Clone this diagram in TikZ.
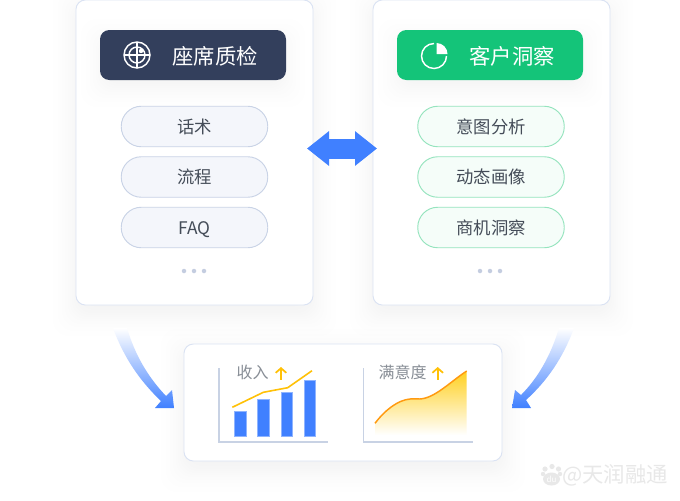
\documentclass[tikz,border=0pt]{standalone}
\usepackage{fontspec}
\setmainfont{Noto Sans CJK SC}
\usetikzlibrary{arrows.meta}
\def\px{0.75pt}
\definecolor{navyhead}{HTML}{333F5C}
\definecolor{greenhead}{HTML}{14C479}
\definecolor{cardline}{HTML}{DBE3F3}
\definecolor{pillgrey}{HTML}{F4F6FB}
\definecolor{pillgreyline}{HTML}{C9D3E6}
\definecolor{pillgreen}{HTML}{F5FDF9}
\definecolor{pillgreenline}{HTML}{95E4BE}
\definecolor{pilltext}{HTML}{444C58}
\definecolor{flowblue}{HTML}{4080FF}
\definecolor{axisline}{HTML}{C8D2E4}
\definecolor{barline}{HTML}{8FB4FF}
\definecolor{risegold}{HTML}{FFC107}
\definecolor{areagold}{HTML}{FFD020}
\definecolor{curveorange}{HTML}{FF9A10}
\definecolor{labelgrey}{HTML}{888E96}
\definecolor{dotgrey}{HTML}{C4CDE0}
\definecolor{markgrey}{HTML}{E8E8E8}
\newcommand{\softshadow}[4]{%
  \foreach \g in {-6,-3,0,2,4,6,8,11,14,18,23} {
    \fill[black, opacity=0.005, rounded corners=12pt]
      (#1-\g,#2-\g+8) rectangle (#3+\g,#4+\g+8);
  }%
}
\begin{document}
\begin{tikzpicture}[x=0.75pt, y=-0.75pt]
\tikzset{
  cardbox/.style={draw=cardline, fill=white, line width=0.7pt, rounded corners=7pt, inner sep=0pt, outer sep=0pt},
  headbox/.style={rounded corners=7pt, minimum width=186*\px, minimum height=50*\px, inner sep=0pt, text=white},
  pillgrey/.style={draw=pillgreyline, fill=pillgrey, line width=0.7pt, rounded corners=15pt, minimum width=146.5*\px, minimum height=40.5*\px, inner sep=0pt, text=pilltext, font=\fontsize{13}{15}\selectfont},
  pillgreen/.style={pillgrey, draw=pillgreenline, fill=pillgreen},
  headtext/.style={inner sep=0pt, text=white, font=\fontsize{16}{18}\selectfont},
  charttext/.style={inner sep=0pt, text=labelgrey, font=\fontsize{12}{14}\selectfont},
  chartaxis/.style={draw=axisline, line width=1pt},
  chartbar/.style={draw=barline, fill=flowblue, line width=0.4pt},
  riseup/.style={draw=risegold, line width=1.3pt, -{Straight Barb[length=3.5pt,width=8pt]}},
  crossflow/.style={draw=flowblue, line width=15pt, {Triangle[length=16.5pt,width=25pt]}-{Triangle[length=16.5pt,width=25pt]}},
  tinydot/.style={fill=dotgrey, circle, inner sep=0pt, minimum size=4.5*\px},
}
\useasboundingbox (0,0) rectangle (680,500);
\fill[white] (0,0) rectangle (680,500);
% shadows under the cards
\softshadow{76}{0}{313}{305}
\softshadow{373}{0}{610}{305}
\softshadow{184}{344}{502}{461}
% cards
\node[cardbox, minimum width=237*\px, minimum height=305*\px] (CardL) at (194.5,152.5) {};
\node[cardbox, minimum width=237*\px, minimum height=305*\px] (CardR) at (491.5,152.5) {};
\node[cardbox, minimum width=318*\px, minimum height=117*\px] (CardB) at (343,402.5) {};
% headers
\softshadow{104}{34}{282}{76}
\softshadow{401}{34}{579}{76}
\node[headbox, fill=navyhead] (HeadL) at (193,55) {};
\node[headbox, fill=greenhead] (HeadR) at (490,55) {};
\node[headtext] (TitleL) at (215,56) {座席质检};
\node[headtext] (TitleR) at (512,56) {客户洞察};
% target icon
\draw[white, line width=1.1pt] (137,55) circle[radius=13*\px];
\draw[white, line width=1.1pt] (137,55) circle[radius=8*\px];
\draw[white, line width=1.1pt] (124,55) -- (150,55);
\draw[white, line width=1.1pt] (137,42) -- (137,68);
\fill[white] (141,51) circle[radius=2.2*\px];
% pie icon
\draw[white, line width=1.1pt] (434,43.5) arc[start angle=90, end angle=360, radius=12.5*\px];
\fill[white] (436.5,54) -- (436.5,43) arc[start angle=90, end angle=0, radius=11*\px] -- cycle;
% pills
\node[pillgrey] (Talk) at (194.5,126.5) {话术};
\node[pillgrey] (Flow) at (194.5,177) {流程};
\node[pillgrey] (Faq) at (194.5,227.5) {\raisebox{-5.5pt}[0pt][0pt]{FAQ}};
\node[pillgreen] (Intent) at (491,126.5) {意图分析};
\node[pillgreen] (Portrait) at (491,177) {动态画像};
\node[pillgreen] (Chance) at (491,227.5) {商机洞察};
\node[tinydot] (DotL1) at (184,271) {};
\node[tinydot] (DotL2) at (194,271) {};
\node[tinydot] (DotL3) at (204,271) {};
\node[tinydot] (DotR1) at (480,271) {};
\node[tinydot] (DotR2) at (490,271) {};
\node[tinydot] (DotR3) at (500,271) {};
% arrows
\coordinate (SwapL) at (307,148.5);
\coordinate (SwapR) at (377,148.5);
\draw[crossflow] (SwapL) -- (SwapR);
\shade[top color=white, bottom color=flowblue, draw=none]
  (113,328) .. controls (124,358) and (140,381) .. (161,401) -- (155,408) -- (174,408) -- (172,390) -- (166,396)
  .. controls (148,377) and (135,355) .. (127,328) -- cycle;
\shade[top color=white, bottom color=flowblue, draw=none]
  (574,328) .. controls (563,358) and (547,381) .. (526,400) -- (531,408) -- (512,408) -- (515,390) -- (521,395)
  .. controls (538,378) and (551,355) .. (559,328) -- cycle;
% income chart
\draw[chartbar] (234.3,411) rectangle (246,436.3);
\draw[chartbar] (257.7,399.3) rectangle (269.3,436.3);
\draw[chartbar] (281,392.3) rectangle (292.3,436.3);
\draw[chartbar] (304,380.7) rectangle (315.7,436.3);
\draw[chartaxis] (219,368) -- (219,442) -- (328,442);
\draw[risegold, line width=1.2pt] (232.3,407.3) -- (263.3,392.3) -- (287.7,387.7) -- (312,370.7);
\node[charttext] (Income) at (252.5,372.5) {收入};
\draw[riseup] (281,379.5) -- (281,367);
% satisfaction chart
\shade[top color=areagold, bottom color=white, draw=none]
  (375,423.3) .. controls (385,410) and (398,400) .. (410,399) .. controls (415,398.5) and (417,399) .. (420,399)
  .. controls (435,398) and (450,382) .. (466.7,371) -- (466.7,435) -- (375,435) -- cycle;
\draw[curveorange, line width=1.1pt]
  (375,423.3) .. controls (385,410) and (398,400) .. (410,399) .. controls (415,398.5) and (417,399) .. (420,399)
  .. controls (435,398) and (450,382) .. (466.7,371);
\draw[chartaxis] (363.7,368) -- (363.7,442) -- (472.7,442);
\node[charttext] (Satisfy) at (402.5,372.5) {满意度};
\draw[riseup] (437.7,379.5) -- (437.7,367);
% watermark
\fill[markgrey] (551.5,479) ellipse[x radius=8.5*\px, y radius=6.5*\px];
\fill[markgrey] (545,469) circle[radius=2.6*\px];
\fill[markgrey] (552,466.5) circle[radius=2.6*\px];
\fill[markgrey] (558.5,469) circle[radius=2.6*\px];
\fill[markgrey] (543,474) circle[radius=2.2*\px];
\fill[markgrey] (560,474) circle[radius=2.2*\px];
\node[inner sep=0pt, text=white, font=\fontsize{6}{7}\selectfont] (MarkDu) at (551.5,479.5) {du};
\node[inner sep=0pt, text=markgrey, font=\fontsize{16}{18}\selectfont, anchor=west] (MarkText) at (562,475) {@天润融通};
\end{tikzpicture}
\end{document}
